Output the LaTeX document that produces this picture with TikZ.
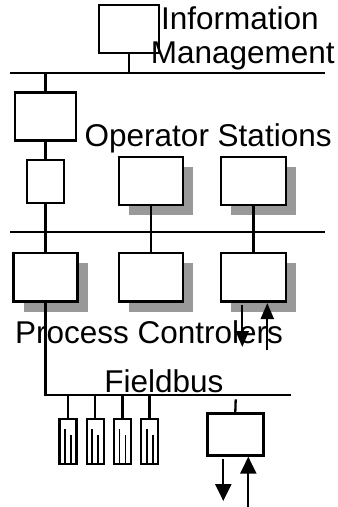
\documentclass[tikz,border=0pt]{standalone}
\usepackage{fontspec}
\setmainfont{Liberation Sans}
\usetikzlibrary{arrows.meta,shadows}
\definecolor{shade}{HTML}{999999}
\begin{document}
\begin{tikzpicture}[x=1pt,y=-1pt,
  box/.style 2 args={draw,line width=2.8pt,fill=white,rectangle,inner sep=0pt,
    minimum width=#1pt,minimum height=#2pt},
  shadowed/.style={drop shadow={shadow xshift=10pt,shadow yshift=-10pt,
    fill=shade,opacity=1}},
  device/.style={draw,line width=2.2pt,fill=white,rectangle,inner sep=0pt,
    minimum width=17pt,minimum height=44.7pt},
  wire/.style={line width=2.3pt},
  bar/.style={line width=1.8pt},
  flow/.style={line width=2.3pt,-{Triangle[length=16pt,width=13pt]}},
  bigflow/.style={line width=2.3pt,-{Triangle[length=17pt,width=16pt]}},
  label/.style={anchor=base west,inner sep=0pt,
    font=\fontsize{31.5}{33}\selectfont}]
\useasboundingbox (0,0) rectangle (338,507);

% plant-level stations
\node[box={60}{48}] (info) at (129,29) {};
\node[box={61}{48}] (os1) at (45.5,116.5) {};
\node[box={37}{43}] (gw) at (45.5,181.5) {};
\node[box={64}{48},shadowed] (os2) at (151,181) {};
\node[box={65}{48},shadowed] (os3) at (253.5,181) {};

% controllers
\node[box={64}{48.7},shadowed] (pc1) at (45.5,277.3) {};
\node[box={64}{48.7},shadowed] (pc2) at (151,277.3) {};
\node[box={65}{48.7},shadowed] (pc3) at (253.5,277.3) {};

% remote I/O unit on the fieldbus
\node[box={56}{42}] (rio) at (235.3,434.3) {};

% field instruments with their level bars
\foreach \i in {0,...,3}{
  \node[device] (dev\i) at (68+27.2*\i,441.7) {};
  \draw[bar] ([xshift=-3pt,yshift=-11pt]dev\i.north) -- ([xshift=-3pt,yshift=2.3pt]dev\i.south);
  \draw[bar] ([xshift=3pt,yshift=-17pt]dev\i.north) -- ([xshift=3pt,yshift=2.3pt]dev\i.south);
  \draw[line width=0.6pt] ([xshift=-7pt,yshift=2.3pt]dev\i.south) -- ([xshift=7pt,yshift=2.3pt]dev\i.south);
}

% plant bus
\coordinate (tbL) at (10,73.3);
\coordinate (tbR) at (325,73.3);
\draw[wire] (tbL) -- (tbR);
\draw[wire] (info.south) -- (info.south |- tbL);
\draw[wire] (os1.north |- tbL) -- (os1.north);
\draw[wire] (os1.south) -- (gw.north);

% control bus
\coordinate (cbL) at (10,232.3);
\coordinate (cbR) at (325,232.3);
\draw[wire] (cbL) -- (cbR);
\draw[wire] (gw.south) -- (pc1.north);
\draw[wire] (os2.south) -- (pc2.north);
\draw[wire] (os3.south) -- (pc3.north);

% fieldbus
\coordinate (fbR) at (291,395);
\draw[wire] (pc1.south) |- (fbR);
\foreach \i in {0,...,3}{
  \draw[wire] (dev\i.north |- fbR) -- (dev\i.north);
}
\coordinate (rioTop) at (235.7,399.3);
\draw[wire] (rioTop) -- (rio.north);

% controller signals
\coordinate (pcOut) at (242.3,305);
\coordinate (pcOutEnd) at (242.3,347);
\coordinate (pcIn) at (267.3,350);
\draw[flow] (pcOut) -- (pcOutEnd);
\draw[flow] (pcIn) -- (pc3.south -| pcIn);

% remote I/O signals
\coordinate (rioOut) at (223.3,459);
\coordinate (rioOutEnd) at (223.3,501);
\coordinate (rioIn) at (248.3,507);
\draw[bigflow] (rioOut) -- (rioOutEnd);
\draw[bigflow] (rioIn) -- (rio.south -| rioIn);

% captions
\node[label] (tInfo) at (161,29.5) {Information};
\node[label] (tMgmt) at (150.7,63) {Management};
\node[label] (tOps) at (84.5,146.7) {Operator Stations};
\node[label] (tPcs) at (15,343.3) {Process Controlers};
\node[label] (tFb) at (104.2,392) {Fieldbus};
\end{tikzpicture}
\end{document}
